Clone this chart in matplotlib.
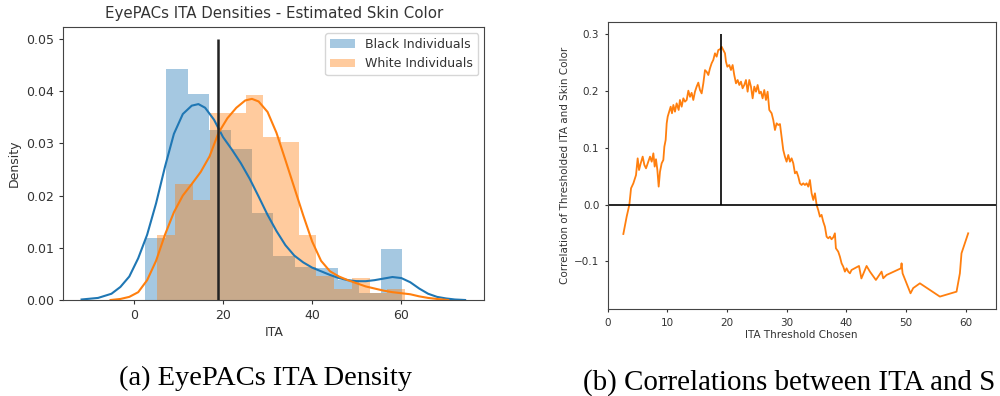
import numpy as np
import matplotlib
matplotlib.use("Agg")
import matplotlib.pyplot as plt
from matplotlib.patches import Patch

# ---------------- data: left panel (EyePACs ITA densities) ----------------
black_edges = [2.47, 7.28, 12.09, 16.90, 21.71, 26.52, 31.33, 36.14, 40.95, 45.76, 50.57, 55.38, 60.19]
black_density = [0.0118, 0.0443, 0.0395, 0.0326, 0.0289, 0.0167, 0.0085, 0.0063, 0.0061, 0.0038, 0.0013, 0.0097]
white_edges = [5.31, 9.27, 13.23, 17.20, 21.16, 25.12, 29.09, 33.05, 37.01, 40.97, 44.94, 48.90, 52.86, 56.83, 60.79]
white_density = [0.0124, 0.0223, 0.0192, 0.0358, 0.0358, 0.0393, 0.0312, 0.0302, 0.0124, 0.0045, 0.0022, 0.0043, 0.0013, 0.0022]

black_kde_x = [-11.7, -8, -5, -3, -1, 1, 3, 5, 7, 9, 11, 13, 14.5, 16, 18, 20, 22, 24, 26, 28, 30, 32,
               34, 36, 38, 40, 42, 44, 46, 48, 50, 52, 54, 56, 58, 60, 62, 64, 66, 68, 70, 72, 74.3]
black_kde_y = [0.0001, 0.0004, 0.0012, 0.0025, 0.0045, 0.0080, 0.0125, 0.0185, 0.0255, 0.0318, 0.0356,
               0.0372, 0.0375, 0.0368, 0.0345, 0.0312, 0.0288, 0.0262, 0.0232, 0.0198, 0.0163, 0.0132,
               0.0105, 0.0085, 0.0072, 0.0062, 0.0055, 0.0048, 0.0042, 0.0038, 0.0036, 0.0036, 0.0038,
               0.0041, 0.0044, 0.0042, 0.0034, 0.0022, 0.0012, 0.0006, 0.0003, 0.0001, 0.0]
white_kde_x = [-5.2, -3, -1, 1, 3, 5, 7, 9, 11, 13, 15, 17, 19, 21, 23, 25, 26.5, 28, 30, 32, 34, 36,
               38, 40, 42, 44, 46, 48, 50, 52, 54, 56, 58, 60, 62, 64, 66, 68, 70.5]
white_kde_y = [0.0, 0.0002, 0.0006, 0.0015, 0.0038, 0.0075, 0.0125, 0.0168, 0.0200, 0.0222, 0.0245,
               0.0275, 0.0320, 0.0348, 0.0368, 0.0382, 0.0385, 0.0380, 0.0360, 0.0320, 0.0268, 0.0215,
               0.0162, 0.0112, 0.0075, 0.0055, 0.0045, 0.0038, 0.0032, 0.0026, 0.0022, 0.0018, 0.0015,
               0.0013, 0.0011, 0.0007, 0.0004, 0.0002, 0.0]
ita_threshold = 19

# ---------------- data: right panel (correlation vs threshold) ----------------
thr_x = [2.62, 3.18, 3.63, 3.91, 4.3, 4.74, 5.02, 5.25, 5.53, 5.86, 6.14, 6.42, 6.7, 7.09, 7.37, 7.65,
         7.87, 8.09, 8.32, 8.54, 8.76, 9.04, 9.32, 9.49, 9.71, 9.88, 10.05, 10.55, 10.77, 11.0, 11.27,
         11.55, 11.89, 12.1, 12.39, 12.67, 12.95, 13.23, 13.51, 13.79, 14.06, 14.34, 14.62, 14.9,
         15.18, 15.46, 15.74, 16.02, 16.3, 16.58, 16.86, 17.13, 17.41, 17.69, 17.97, 18.25, 18.53,
         18.81, 19.09, 19.37, 19.65, 19.81, 20.04, 20.37, 20.65, 20.93, 21.2, 21.49, 21.77, 22.05,
         22.33, 22.6, 22.88, 23.16, 23.44, 23.72, 24.0, 24.28, 24.56, 24.84, 25.12, 25.4, 25.67,
         25.95, 26.23, 26.51, 26.79, 27.07, 27.46, 27.74, 28.02, 28.3, 28.58, 28.86, 29.13, 29.41,
         29.69, 29.97, 30.25, 30.53, 30.81, 31.09, 31.37, 31.65, 31.93, 32.2, 32.48, 32.76, 33.04,
         33.32, 33.6, 33.88, 34.16, 34.44, 34.72, 35.0, 35.27, 35.55, 35.83, 36.11, 36.39, 36.67,
         36.95, 37.23, 37.5, 37.8, 38.06, 38.23, 38.62, 38.9, 39.18, 39.46, 39.74, 40.02, 40.3,
         40.58, 40.85, 42.1, 42.5, 43.37, 43.93, 44.93, 45.88, 46.16, 46.72, 49.12, 49.23, 49.4,
         50.73, 51.18, 52.3, 55.65, 58.44, 59.0, 59.27, 60.39]
corr_y = [-0.0517, -0.021, 0.0, 0.0288, 0.0376, 0.052, 0.0816, 0.061, 0.0728, 0.0846, 0.070, 0.064,
          0.0728, 0.0846, 0.0757, 0.0904, 0.067, 0.080, 0.061, 0.0317, 0.058, 0.0728, 0.0787, 0.102,
          0.114, 0.143, 0.155, 0.1726, 0.161, 0.1756, 0.1638, 0.1785, 0.1668, 0.1844, 0.1726, 0.1873,
          0.1814, 0.1844, 0.2008, 0.190, 0.197, 0.1844, 0.199, 0.2079, 0.215, 0.202, 0.196, 0.2137,
          0.237, 0.234, 0.2284, 0.240, 0.249, 0.255, 0.2666, 0.2607, 0.2725, 0.2736, 0.278, 0.2725,
          0.2666, 0.252, 0.243, 0.246, 0.2372, 0.246, 0.2284, 0.2137, 0.2196, 0.2108, 0.2167, 0.205,
          0.2108, 0.2196, 0.199, 0.2196, 0.2079, 0.1873, 0.2079, 0.199, 0.2108, 0.196, 0.199, 0.1873,
          0.202, 0.1844, 0.199, 0.1668, 0.161, 0.149, 0.1315, 0.1433, 0.1403, 0.142, 0.1198, 0.0963,
          0.0846, 0.0757, 0.0875, 0.0757, 0.0816, 0.0728, 0.0552, 0.0581, 0.0493, 0.0376, 0.0346,
          0.0376, 0.0346, 0.0376, 0.0317, 0.0434, 0.020, 0.0082, 0.020, -0.0006, -0.0094, -0.0211,
          -0.018, -0.030, -0.0388, -0.0564, -0.0593, -0.0564, -0.061, -0.0575, -0.0505, -0.0769,
          -0.0828, -0.0916, -0.1033, -0.1092, -0.118, -0.1122, -0.118, -0.121, -0.1151, -0.108,
          -0.130, -0.108, -0.118, -0.1327, -0.118, -0.1297, -0.1239, -0.1122, -0.1033, -0.121,
          -0.1562, -0.147, -0.1386, -0.162, -0.1533, -0.121, -0.0857, -0.0505]
best_threshold = 19
best_corr_top = 0.3

# ---------------- figure ----------------
fig = plt.figure(figsize=(10, 3.96), dpi=100)
c_blue = '#1f77b4'
c_orange = '#ff7f0e'
txt = '#333333'
fs_left = 9.0
fs_right = 7.5

# left panel
ax1 = fig.add_axes([0.0633, 0.2424, 0.421, 0.690])
ax1.bar(black_edges[:-1], black_density, width=np.diff(black_edges), align='edge',
        color=c_blue, alpha=0.4, linewidth=0)
ax1.bar(white_edges[:-1], white_density, width=np.diff(white_edges), align='edge',
        color=c_orange, alpha=0.4, linewidth=0)
ax1.plot(black_kde_x, black_kde_y, color=c_blue, lw=1.5)
ax1.plot(white_kde_x, white_kde_y, color=c_orange, lw=1.5)
ax1.vlines(ita_threshold, 0, 0.05, color='#222222', lw=1.8)
ax1.set_xlim(-15.8, 78.6)
ax1.set_ylim(0, 0.0523)
ax1.set_xticks([0, 20, 40, 60])
ax1.set_yticks([0, 0.01, 0.02, 0.03, 0.04, 0.05])
ax1.set_yticklabels(['0.00', '0.01', '0.02', '0.03', '0.04', '0.05'])
ax1.tick_params(labelsize=fs_left, colors=txt, length=3)
ax1.set_title('EyePACs ITA Densities - Estimated Skin Color', fontsize=10.8, color=txt, pad=6)
ax1.set_xlabel('ITA', fontsize=fs_left, color=txt, labelpad=3)
ax1.set_ylabel('Density', fontsize=fs_left, color=txt, labelpad=4)
for s in ax1.spines.values():
    s.set_color('#444444')
handles = [Patch(facecolor=c_blue, alpha=0.4), Patch(facecolor=c_orange, alpha=0.4)]
ax1.legend(handles, ['Black Individuals', 'White Individuals'], loc='upper right',
           fontsize=fs_left, labelcolor=txt)

# right panel
ax2 = fig.add_axes([0.6077, 0.2189, 0.388, 0.7263])
ax2.plot(thr_x, corr_y, color=c_orange, lw=1.3)
ax2.axhline(0, color='black', lw=1.2)
ax2.vlines(best_threshold, 0, best_corr_top, color='black', lw=1.2)
ax2.set_xlim(0, 65)
ax2.set_ylim(-0.1844, 0.3223)
ax2.set_xticks([0, 10, 20, 30, 40, 50, 60])
ax2.set_yticks([-0.1, 0.0, 0.1, 0.2, 0.3])
ax2.tick_params(labelsize=fs_right, colors=txt, length=2.5)
ax2.set_xlabel('ITA Threshold Chosen', fontsize=fs_right, color=txt, labelpad=2)
ax2.set_ylabel('Correlation of Thresholded ITA and Skin Color', fontsize=fs_right, color=txt, labelpad=3)
for s in ax2.spines.values():
    s.set_color('#444444')

# captions
fig.text(0.2655, 1 - 378 / 396, '(a) EyePACs ITA Density', family='Liberation Serif', fontsize=20.5,
         ha='center', va='center', color='black')
fig.text(0.583, 1 - 383 / 396, '(b) Correlations between ITA and S', family='Liberation Serif',
         fontsize=20.9, ha='left', va='center', color='black')

fig.savefig('out.png', dpi=100)
